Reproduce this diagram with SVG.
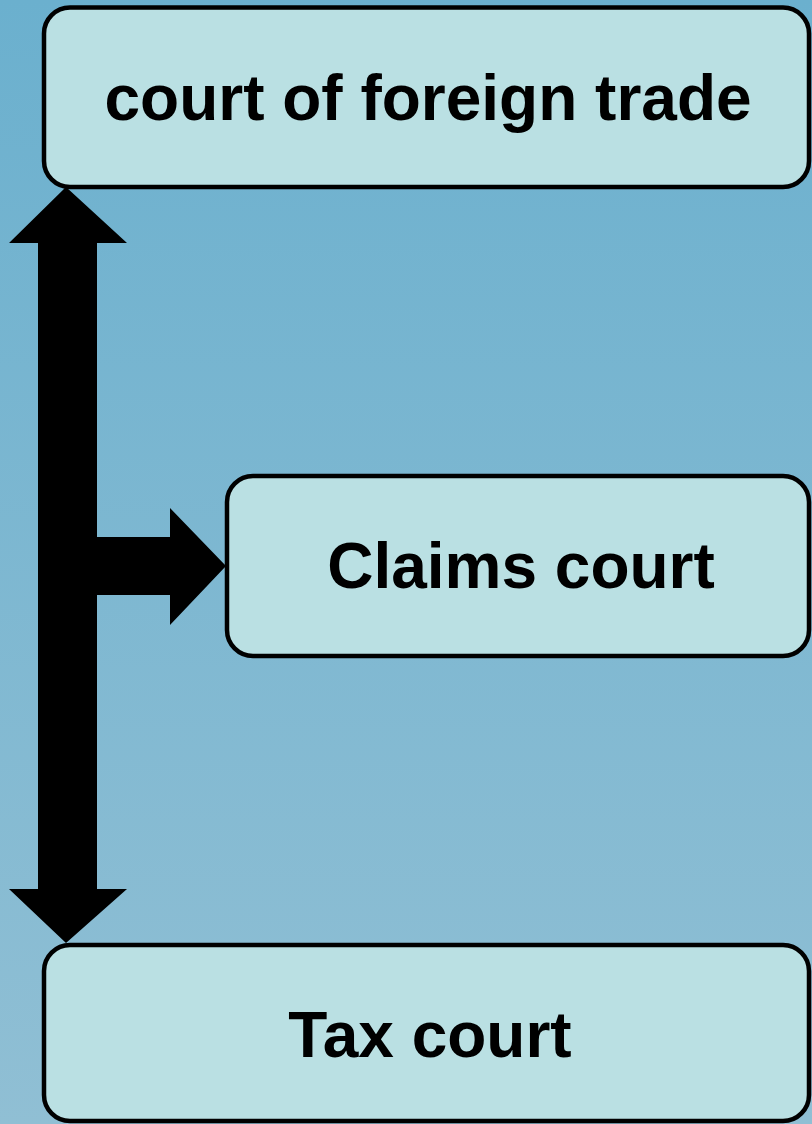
<svg xmlns="http://www.w3.org/2000/svg" width="812" height="1124" viewBox="0 0 812 1124">
<defs>
<linearGradient id="bg" x1="0" y1="0" x2="0" y2="1">
<stop offset="0" stop-color="#6BB0CE"/>
<stop offset="1" stop-color="#90BFD4"/>
</linearGradient>
<style>
.box{fill:#BAE0E3;stroke:#000;stroke-width:4.5}
.lbl{font-family:"Liberation Sans",Arial,sans-serif;font-weight:bold;font-size:64px;fill:#000;text-anchor:middle}
.arrow{fill:#000}
</style>
</defs>
<rect x="0" y="0" width="812" height="1124" fill="url(#bg)"/>
<g id="connectors">
<path class="arrow" d="M66,187 L127,243 L97,243 L97,537 L170,537 L170,508 L226,566 L170,625 L170,595 L97,595 L97,889 L127,889 L66,943 L9,889 L38,889 L38,243 L9,243 Z"/>
</g>
<g id="node-foreign-trade">
<rect class="box" x="44" y="7.5" width="765" height="179.5" rx="26"/>
<text class="lbl" x="428" y="120">court of foreign trade</text>
</g>
<g id="node-claims">
<rect class="box" x="227" y="476" width="582" height="180" rx="26"/>
<text class="lbl" x="521" y="588">Claims court</text>
</g>
<g id="node-tax">
<rect class="box" x="44" y="945" width="765" height="176" rx="26"/>
<text class="lbl" x="430" y="1057">Tax court</text>
</g>
</svg>
